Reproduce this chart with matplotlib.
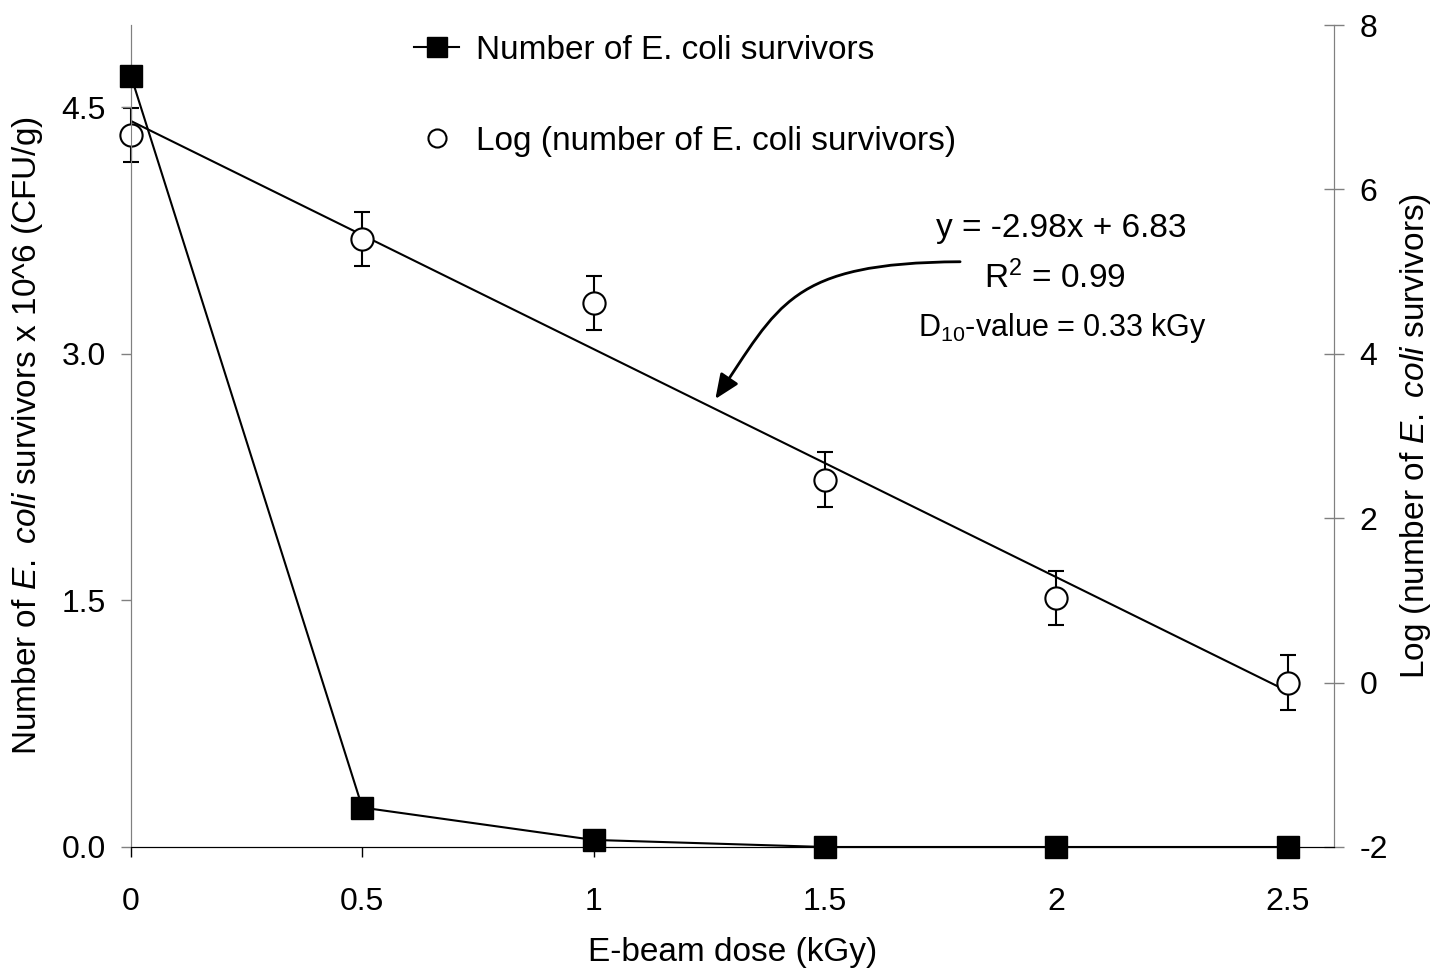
import numpy as np
import matplotlib.pyplot as plt
from matplotlib.path import Path
from matplotlib.patches import FancyArrowPatch

plt.rcParams['font.family'] = ['Liberation Sans', 'DejaVu Sans']
plt.rcParams['mathtext.fontset'] = 'custom'
plt.rcParams['mathtext.rm'] = 'Liberation Sans'
plt.rcParams['mathtext.it'] = 'Liberation Sans:italic'
plt.rcParams['axes.unicode_minus'] = False

# dose (kGy)
dose = [0, 0.5, 1, 1.5, 2, 2.5]
# survivors x 10^6 (CFU/g)
survivors = [4.69, 0.24, 0.043, 0.0, 0.0, 0.0]
# log of survivors
log_surv = [6.66, 5.40, 4.62, 2.47, 1.03, 0.0]
log_err = [0.33, 0.33, 0.33, 0.33, 0.33, 0.33]

fig = plt.figure(figsize=(14.41, 9.73), dpi=100)
ax = fig.add_axes([0.0909, 0.1295, 0.8348, 0.8448])
ax2 = ax.twinx()

gray = '#808080'
for a in (ax, ax2):
    a.spines['top'].set_visible(False)
    a.spines['left'].set_color(gray)
    a.spines['right'].set_color(gray)
    a.spines['bottom'].set_color('black')

# number of survivors
sq, = ax.plot(dose, survivors, color='black', lw=1.5, marker='s', ms=16,
              clip_on=False, zorder=5, label='Number of E. coli survivors')

# log survivors with trend line
ci = ax2.errorbar(dose, log_surv, yerr=log_err, fmt='o', ms=16, mfc='white', mec='black',
                  mew=1.5, ecolor='black', elinewidth=1.5, capsize=5.8, capthick=1.5,
                  clip_on=False, zorder=4)
slope, icpt = np.polyfit(dose, log_surv, 1)
xs = np.array([dose[0], dose[-1]])
ax2.plot(xs, slope * xs + icpt, color='black', lw=1.5, zorder=3)

ax.set_xlim(0, 2.6)
ax.set_ylim(0, 5)
ax2.set_ylim(-2, 8)
ax.set_xticks(dose)
ax.set_xticklabels(['0', '0.5', '1', '1.5', '2', '2.5'])
ax.set_yticks([0, 1.5, 3.0, 4.5])
ax.set_yticklabels(['0.0', '1.5', '3.0', '4.5'])
ax2.set_yticks([-2, 0, 2, 4, 6, 8])

ax.tick_params(axis='x', direction='out', length=7, width=1, color='black', labelsize=23, pad=22)
ax.tick_params(axis='y', direction='out', length=7, width=1, color=gray, labelsize=23, pad=11)
ax2.tick_params(axis='y', direction='inout', length=15, width=1, color=gray, labelsize=23, pad=11)

ax.set_xlabel('E-beam dose (kGy)', fontsize=24, labelpad=14)
ax.set_ylabel(r'Number of $\it{E.\ coli}$ survivors x 10^6 (CFU/g)', fontsize=24, labelpad=12)
ax2.set_ylabel(r'Log (number of $\it{E.\ coli}$ survivors)', fontsize=24, labelpad=7)

ax2.set_zorder(ax.get_zorder() - 1)
ax.patch.set_visible(False)

# legend
circ_handle = plt.Line2D([], [], ls='none', marker='o', ms=13, mfc='white', mec='black', mew=1.5)
sq_handle = plt.Line2D([], [], color='black', lw=1.5, marker='s', ms=14.5)
fig.legend([sq_handle, circ_handle],
           ['Number of E. coli survivors', 'Log (number of E. coli survivors)'],
           loc='upper left', bbox_to_anchor=(0.2667, 0.995), frameon=False, fontsize=24,
           handlelength=1.35, handletextpad=0.5, labelspacing=1.8)

# equation annotation
ax2.text(2.01, 5.52, 'y = -2.98x + 6.83', fontsize=24, ha='center', va='center')
ax2.text(1.997, 4.92, r'R$^2$ = 0.99', fontsize=24, ha='center', va='center')
ax2.text(2.012, 4.31, r'D$_{10}$-value = 0.33 kGy', fontsize=22, ha='center', va='center')

# curved arrow pointing at the trend line (cubic bezier)
arrow_path = Path([(1.792, 5.12), (1.423, 5.107), (1.401, 4.596), (1.263, 3.45)],
                  [Path.MOVETO, Path.CURVE4, Path.CURVE4, Path.CURVE4])
ax2.add_patch(FancyArrowPatch(path=arrow_path, arrowstyle='-|>,head_length=0.75,head_width=0.32',
                              mutation_scale=20, color='black', lw=2,
                              transform=ax2.transData))

fig.savefig('out.png', dpi=100)
